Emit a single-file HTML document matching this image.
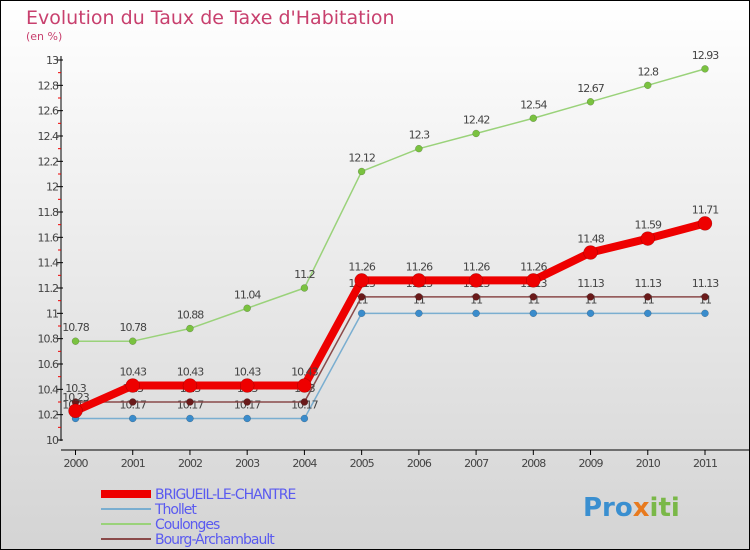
<!DOCTYPE html>
<html><head><meta charset="utf-8"><style>
html,body{margin:0;padding:0}
body{width:750px;height:550px;overflow:hidden;font-family:"DejaVu Sans","Liberation Sans",sans-serif}
svg{display:block}
</style></head><body>
<svg id="chart" width="750" height="550">
<defs><linearGradient id="bg" x1="0" y1="0" x2="0" y2="1"><stop offset="0" stop-color="#ffffff"/><stop offset="1" stop-color="#d4d4d4"/></linearGradient></defs>
<rect x="0.5" y="0.5" width="749" height="549" fill="url(#bg)" stroke="#000"/>
<text x="26" y="24" font-size="19" fill="#c8406e">Evolution du Taux de Taxe d'Habitation</text>
<text x="26" y="40" font-size="11" fill="#c8406e">(en %)</text>
<g id="plot"></g>
<g id="legend"></g>
<text x="583" y="516" font-size="26" font-weight="bold" fill="#3a8fd0">Pro<tspan fill="#e87a1e">x</tspan><tspan fill="#7ab848">iti</tspan></text>
</svg>
<script>
const years=[2000,2001,2002,2003,2004,2005,2006,2007,2008,2009,2010,2011];
const brigueil=[10.23,10.43,10.43,10.43,10.43,11.26,11.26,11.26,11.26,11.48,11.59,11.71];
const thollet=[10.17,10.17,10.17,10.17,10.17,11,11,11,11,11,11,11];
const coulonges=[10.78,10.78,10.88,11.04,11.2,12.12,12.3,12.42,12.54,12.67,12.8,12.93];
const bourg=[10.3,10.3,10.3,10.3,10.3,11.13,11.13,11.13,11.13,11.13,11.13,11.13];
const yTicks=[10,10.2,10.4,10.6,10.8,11,11.2,11.4,11.6,11.8,12,12.2,12.4,12.6,12.8,13];
const NS="http://www.w3.org/2000/svg";
const x=i=>75.5+i*(705-75.5)/(years.length-1);
const y=v=>440-(v-10)*(440-60)/3;
const plot=document.getElementById('plot');
function mk(tag,attrs,parent){const e=document.createElementNS(NS,tag);for(const k in attrs)e.setAttribute(k,attrs[k]);(parent||plot).appendChild(e);return e;}
const fmt=v=>String(+v.toFixed(2));
// axes
let ax=mk('line',{x1:61,y1:56,x2:61,y2:441,stroke:'#000','stroke-width':1});


let xa=mk('line',{x1:61,y1:450,x2:750,y2:450,stroke:'#000','stroke-width':1});


yTicks.forEach(t=>{
 mk('line',{x1:57,y1:y(t),x2:63,y2:y(t),stroke:'#000'});
 const tx=mk('text',{x:58,y:y(t)+4,'font-size':11,'text-anchor':'end',fill:'#444','letter-spacing':'-1'});
 tx.textContent=fmt(t);
 
 
 if(t<13) mk('line',{x1:58,y1:y(t+0.1),x2:61,y2:y(t+0.1),stroke:'#e00'});
});
years.forEach((yr,i)=>{
 mk('line',{x1:x(i),y1:450,x2:x(i),y2:455,stroke:'#000'});
 const tx=mk('text',{x:x(i),y:467,'font-size':11,'text-anchor':'middle',fill:'#444','letter-spacing':'-1'});
 tx.textContent=yr;
 
 
});
const series=[
 {name:'coulonges',data:coulonges,color:'#9ad27a',dot:'#7ac240',w:1.5,r:3.5},
 {name:'thollet',data:thollet,color:'#7aaed0',dot:'#3a8ccc',w:1.5,r:3.5},
 {name:'bourg-archambault',data:bourg,color:'#8a4a4a',dot:'#6a1a1a',w:1.5,r:3.5},
 {name:'brigueil-le-chantre',data:brigueil,color:'#ee0000',dot:'#ee0000',w:8,r:7}
];
series.forEach(s=>{
 const p=mk('polyline',{points:s.data.map((v,i)=>x(i)+','+y(v)).join(' '),fill:'none',stroke:s.color,'stroke-width':s.w,'stroke-linejoin':'round'});
 
 
 s.data.forEach((v,i)=>{
  const c=mk('circle',{cx:x(i),cy:y(v),r:s.r,fill:s.dot,stroke:'rgba(0,0,0,0.3)','stroke-width':0.5});
  
  
  const t=mk('text',{x:x(i),y:y(v)-10,'font-size':11,'text-anchor':'middle',fill:'#444','letter-spacing':'-1'});
  t.textContent=fmt(v);
  
  
 });
});
const lg=document.getElementById('legend');
const items=[['BRIGUEIL-LE-CHANTRE','#ee0000',8],['Thollet','#7aaed0',2],['Coulonges','#9ad27a',2],['Bourg-Archambault','#8a4a4a',2]];
items.forEach((it,k)=>{
 const yy=493+k*15;
 const l=mk('line',{x1:101,y1:yy+1,x2:151,y2:yy+1,stroke:it[1],'stroke-width':it[2]},lg);
 
 
 const t=mk('text',{x:155,y:yy+6,'font-size':14,fill:'#5a5af0','letter-spacing':'-1'},lg);
 t.textContent=it[0];
 
 
});
</script>
</body></html>
